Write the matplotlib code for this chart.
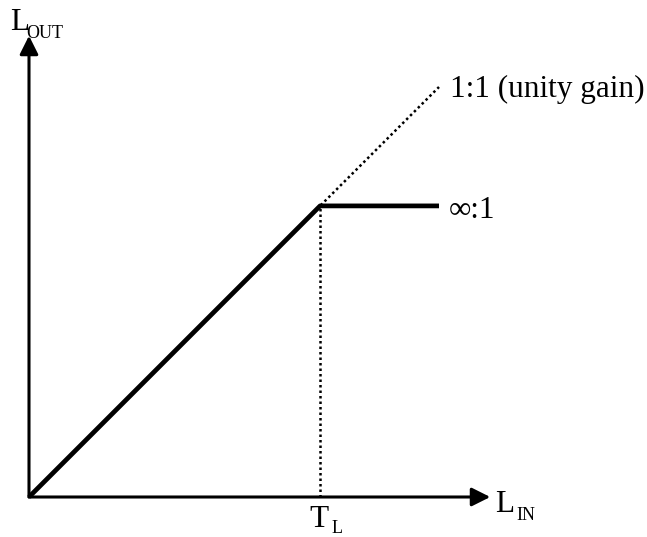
import numpy as np
import matplotlib.pyplot as plt

# input / output levels (arbitrary units, 0..100)
threshold = 71
lin_unity = [0, 100]
lout_unity = [0, 100]
lin_limit = [0, threshold, 100]
lout_limit = [0, threshold, threshold]
axis_max = 112.5

plt.rcParams['font.family'] = ['Liberation Serif', 'DejaVu Serif']

fig = plt.figure(figsize=(6.47, 5.37), dpi=100)
ax = fig.add_axes([0, 0, 1, 1])
sc = 4.1
ax.set_xlim(-29 / sc, (647 - 29) / sc)
ax.set_ylim(-(537 - 497) / sc, 497 / sc)
ax.axis('off')

# axes with arrows
ax.annotate('', xy=(axis_max, 0), xytext=(0, 0),
            arrowprops=dict(arrowstyle='-|>', lw=2.2, color='black',
                            mutation_scale=28, shrinkA=0, shrinkB=0))
ax.annotate('', xy=(0, axis_max), xytext=(0, 0),
            arrowprops=dict(arrowstyle='-|>', lw=2.2, color='black',
                            mutation_scale=28, shrinkA=0, shrinkB=0))

# unity gain (dotted) and limiter (thick)
ax.plot(lin_unity, lout_unity, color='black', lw=1.8, ls=(0, (1, 1.2)))
ax.plot([threshold, threshold], [0, threshold], color='black', lw=1.8, ls=(0, (1, 1.2)))
ax.plot(lin_limit, lout_limit, color='black', lw=3.4, solid_capstyle='butt')

fs = 22.5
sub = 13
ax.text(102.6, 97.6, '1:1 (unity gain)', fontsize=fs, va='baseline', ha='left')
ax.text(102.4, 68.0, '∞:1', fontsize=fs, va='baseline', ha='left')

# axis labels with subscripts
ax.text(-4.6, 113.9, 'L', fontsize=fs, va='baseline', ha='left')
ax.text(-0.6, 112.0, 'OUT', fontsize=sub, va='baseline', ha='left')
ax.text(113.7, -3.7, 'L', fontsize=fs, va='baseline', ha='left')
ax.text(118.9, -5.6, 'IN', fontsize=sub, va='baseline', ha='left')
ax.text(68.5, -7.3, 'T', fontsize=fs, va='baseline', ha='left')
ax.text(73.8, -8.8, 'L', fontsize=sub, va='baseline', ha='left')

fig.savefig('out.png', dpi=100)
